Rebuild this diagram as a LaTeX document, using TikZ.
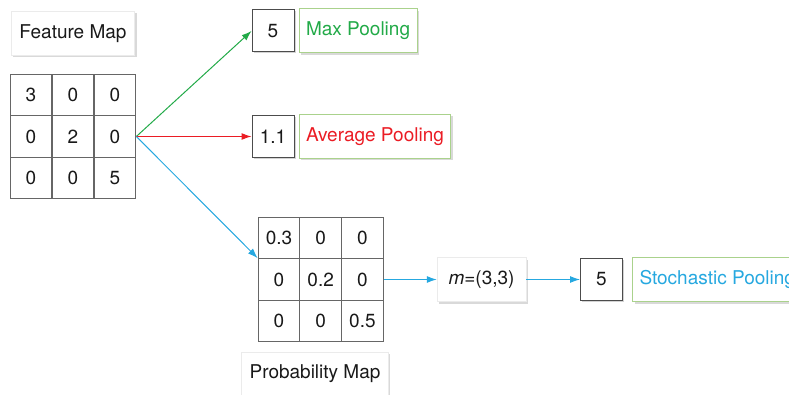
\documentclass[tikz,border=0pt]{standalone}
\usepackage{fontspec}
\setmainfont{TeX Gyre Heros}
\usetikzlibrary{positioning,shadows,arrows.meta}
\definecolor{poolgreen}{RGB}{34,170,72}
\definecolor{poolred}{RGB}{235,28,36}
\definecolor{poolblue}{RGB}{38,168,224}
\definecolor{boxline}{RGB}{170,210,140}

\begin{document}
\begin{tikzpicture}[x=1pt,y=-1pt,font=\fontsize{19}{22}\selectfont,
cell/.style={draw=black!60,line width=1pt,minimum size=41.7pt,inner sep=0pt,text=black!90},
numbox/.style={draw=black!70,line width=1pt,fill=white,minimum size=42pt,inner sep=0pt,
 text=black!90,drop shadow={shadow xshift=1.5pt,shadow yshift=-1.5pt,opacity=.35}},
namebox/.style={draw=black!8,fill=white,minimum height=44pt,inner xsep=8pt,text=black!90,
 drop shadow={shadow xshift=2pt,shadow yshift=-2pt,opacity=.3}},
poolbox/.style={namebox,draw=boxline,line width=1pt,anchor=west,inner xsep=7pt},
flow/.style={-{Latex[length=10pt,width=7pt]},line width=1pt}]
 \useasboundingbox (0,0) rectangle (789,395);
 % the two 3x3 maps
 \foreach \a/\b/\c [count=\r] in {3/0/0,0/2/0,0/0/5}
 {\path (31,53.5+41.5*\r) node[cell] (f\r1) {\a} ++(42,0) node[cell] (f\r2) {\b}
 ++(42,0) node[cell] (f\r3) {\c};}
 \foreach \a/\b/\c [count=\r] in {0.3/0/0,0/0.2/0,0/0/0.5}
 {\path (279,196.5+41.5*\r) node[cell] (p\r1) {\a} ++(41.7,0) node[cell] (p\r2) {\b}
 ++(41.7,0) node[cell] (p\r3) {\c};}
 \node[namebox,above=18pt of f12,minimum width=120pt] (fmap) {Feature Map};
 \node[namebox,minimum width=146pt] (pmap) at (315,374) {Probability Map};
 % results
 \node[numbox] (max) at (273,31) {5};
 \node[poolbox,right=4pt of max,text=poolgreen] (maxl) {Max Pooling};
 \node[numbox] (avg) at (273,136.5) {1.1};
 \node[poolbox,right=4pt of avg,text=poolred] (avgl) {Average Pooling};
 \node[namebox,minimum width=89pt] (pos) at (481.5,279.5) {\textit{m}=(3,3)};
 \node[numbox] (sto) at (601.5,279.5) {5};
 \node[poolbox,right=9pt of sto,text=poolblue] (stol) {Stochastic Pooling};
 % arrows
 \draw[flow,poolgreen] (f23.east) -- (max.west);
 \draw[flow,poolred] (f23.east) -- (avg.west);
 \draw[flow,poolblue] (f23.east) -- (p21.north west);
 \draw[flow,poolblue] (p23.east) -- (pos);
 \draw[flow,poolblue] (pos) -- (sto);
\end{tikzpicture}
\end{document}
